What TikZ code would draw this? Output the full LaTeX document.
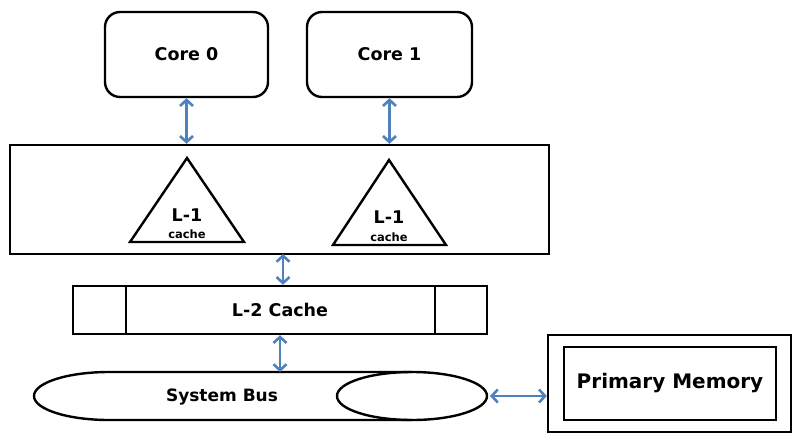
\documentclass[tikz,border=0pt]{standalone}
\usepackage{fontspec}
\setmainfont{DejaVu Sans}
\usetikzlibrary{arrows.meta}
\definecolor{linkblue}{RGB}{79,129,189}

\begin{document}
\begin{tikzpicture}[x=1pt,y=1pt,
  box/.style={draw,line width=2.4pt,inner sep=0pt},
  corebox/.style={box,rounded corners=15pt,minimum width=163pt,minimum height=85pt},
  big/.style={font=\bfseries\fontsize{17.5}{20}\selectfont},
  small/.style={font=\bfseries\fontsize{11.5}{13}\selectfont},
  link/.style={linkblue,line width=2.6pt,{Straight Barb[length=6pt,width=13pt]}-{Straight Barb[length=6pt,width=13pt]}}]
\useasboundingbox (0,0) rectangle (806,-442);
% cores
\node[corebox,big] (core0) at (186.5,-54.5) {Core 0};
\node[corebox,big,minimum width=165pt] (core1) at (389.5,-54.5) {Core 1};
% L-1 block
\node[box,minimum width=539pt,minimum height=109pt] (l1box) at (279.5,-199.5) {};
\draw[line width=2.4pt] (187,-158) -- (130,-242) -- (244,-242) -- cycle;
\draw[line width=2.4pt] (389,-160) -- (333,-245) -- (446,-245) -- cycle;
\node[big] (l1a) at (187,-215) {L-1};
\node[small] (ca) at (187,-234) {cache};
\node[big] (l1b) at (389,-217) {L-1};
\node[small] (cb) at (389,-237) {cache};
% L-2 block
\node[box,big,minimum width=414pt,minimum height=48pt] (l2) at (280,-310) {L-2 Cache};
\draw[line width=2.4pt] (126,-286) -- (126,-334);
\draw[line width=2.4pt] (435,-286) -- (435,-334);
% system bus
\draw[line width=2.4pt] (412,-372) -- (109,-372) arc[start angle=90,end angle=270,x radius=75,y radius=24] -- (412,-420);
\draw[line width=2.4pt] (412,-396) ellipse[x radius=75,y radius=24];
\node[font=\bfseries\fontsize{17}{20}\selectfont] (bus) at (222,-397) {System Bus};
\coordinate (bustop) at (280,-372);
\coordinate (busright) at (490,-396);
% memory
\node[box,minimum width=243pt,minimum height=97pt] (mem) at (669.5,-383.5) {};
\node[box,font=\bfseries\fontsize{20}{24}\selectfont,minimum width=212pt,minimum height=73pt] (meminner) at (670,-383.5) {Primary Memory};
% links
\coordinate (j1) at (283,-254);
\draw[link] (core0) -- (core0 |- l1box.north);
\draw[link] (core1) -- (core1 |- l1box.north);
\draw[link] (j1) -- (j1 |- l2.north);
\draw[link] (l2.south) -- (bustop);
\draw[link] (busright) -- (busright -| mem.west);
\end{tikzpicture}
\end{document}
